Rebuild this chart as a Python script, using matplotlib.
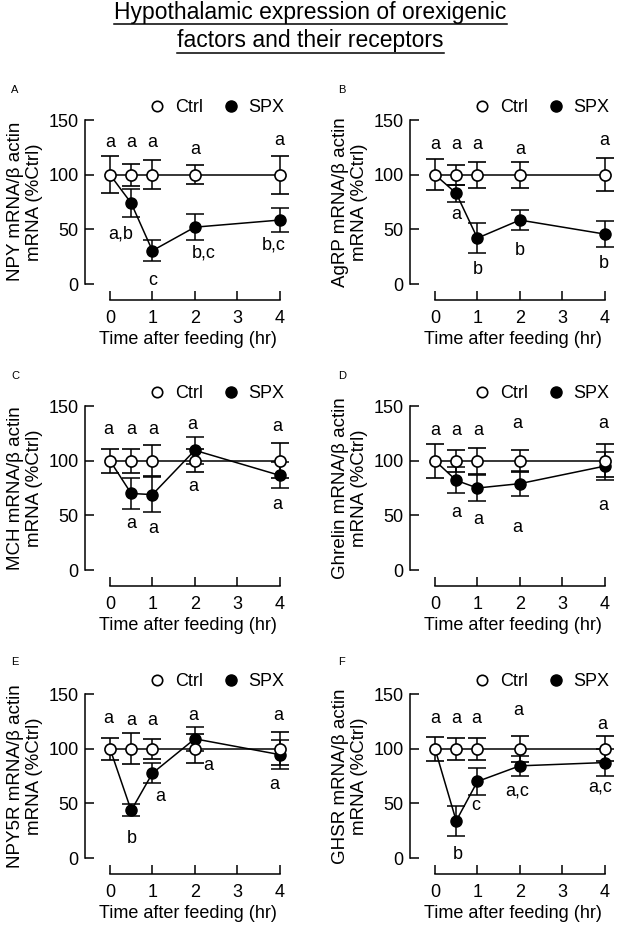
import matplotlib
matplotlib.use("Agg")
import matplotlib.pyplot as plt
from matplotlib.lines import Line2D

plt.rcParams["font.family"] = ["Liberation Sans", "DejaVu Sans"]

TIME = [0, 0.5, 1, 2, 4]
XTICKS = [0, 1, 2, 3, 4]
YTICKS = [0, 50, 100, 150]
PANELS = ["A", "B", "C", "D", "E", "F"]
GENES = ["NPY", "AgRP", "MCH", "Ghrelin", "NPY5R", "GHSR"]

CTRL = [100, 100, 100, 100, 100]
NPY_CTRL_ERR = [17, 10, 13.5, 8.5, 17.5]
NPY_SPX = [100, 74, 30.5, 52, 58.5]
NPY_SPX_ERR = [0, 13, 9.5, 12, 10.7]
AGRP_CTRL_ERR = [14, 9, 12, 12, 15]
AGRP_SPX = [100, 83, 42, 58.5, 45.7]
AGRP_SPX_ERR = [0, 8, 13.5, 9.5, 11.5]
MCH_CTRL_ERR = [11, 11, 14, 10.5, 16]
MCH_SPX = [100, 70, 69, 109.5, 86.6]
MCH_SPX_ERR = [0, 14, 16, 12.5, 12]
GHRELIN_CTRL_ERR = [15.5, 10, 12, 10, 15]
GHRELIN_SPX = [100, 82, 75, 79, 95]
GHRELIN_SPX_ERR = [0, 12, 12, 11.5, 12.5]
NPY5R_CTRL_ERR = [10, 14, 9, 13, 15]
NPY5R_SPX = [100, 43.5, 77.5, 109, 94.6]
NPY5R_SPX_ERR = [0, 5.5, 9, 11, 13]
GHSR_CTRL_ERR = [11, 10, 10, 12, 11.5]
GHSR_SPX = [100, 34, 70, 84.3, 87.3]
GHSR_SPX_ERR = [0, 14, 12, 9, 12]

CTRL_ERRS = [NPY_CTRL_ERR, AGRP_CTRL_ERR, MCH_CTRL_ERR, GHRELIN_CTRL_ERR, NPY5R_CTRL_ERR, GHSR_CTRL_ERR]
SPX_VALS = [NPY_SPX, AGRP_SPX, MCH_SPX, GHRELIN_SPX, NPY5R_SPX, GHSR_SPX]
SPX_ERRS = [NPY_SPX_ERR, AGRP_SPX_ERR, MCH_SPX_ERR, GHRELIN_SPX_ERR, NPY5R_SPX_ERR, GHSR_SPX_ERR]

# significance letters (text) and where they sit (x, y in data units)
LETTERS = [
    ["a", "a", "a", "a", "a", "a,b", "c", "b,c", "b,c"],
    ["a", "a", "a", "a", "a", "a", "b", "b", "b"],
    ["a", "a", "a", "a", "a", "a", "a", "a", "a"],
    ["a", "a", "a", "a", "a", "a", "a", "a", "a"],
    ["a", "a", "a", "a", "a", "b", "a", "a", "a"],
    ["a", "a", "a", "a", "a", "b", "c", "a,c", "a,c"],
]
LETTER_POS = [
    [(0, 129.6), (0.5, 129.6), (1, 129.6), (2, 122.6), (4, 131.7),
     (0.25, 46), (1.01, 3), (2.22, 28), (3.87, 35.7)],
    [(0, 128), (0.5, 128), (1, 128), (2, 122.6), (4, 131),
     (0.49, 63.4), (1.02, 13.7), (1.99, 30.5), (3.98, 18.9)],
    [(-0.05, 128.4), (0.5, 128.4), (1.01, 128.4), (1.93, 132.9), (3.95, 131.4),
     (0.51, 43), (1.01, 38.4), (1.96, 76.5), (3.95, 59.8)],
    [(0, 127.4), (0.49, 127.4), (1.02, 127.4), (1.94, 134.3), (3.96, 133.6),
     (0.49, 52.6), (1.02, 46.4), (1.94, 38.6), (3.96, 58.9)],
    [(-0.05, 127.6), (0.5, 125.5), (1, 125.5), (1.96, 130.6), (3.97, 130.6),
     (0.51, 18.3), (1.18, 56.5), (2.32, 84.4), (3.88, 67)],
    [(0, 128), (0.49, 128), (0.98, 128), (1.96, 135), (3.95, 122),
     (0.54, 3.5), (0.96, 48), (1.93, 61.6), (3.9, 64.7)],
]

FS = 13
W, H = 621, 932
LEFTS = [85.4, 410.4]
BOTTOMS = [300, 586, 874]
AX_W, AX_H = 204.8, 196.4

fig = plt.figure(figsize=(W / 100, H / 100), dpi=100)

for i, gene in enumerate(GENES):
    row, col = divmod(i, 2)
    ax = fig.add_axes([LEFTS[col] / W, 1 - BOTTOMS[row] / H, AX_W / W, AX_H / H])
    ax.set_xlim(-0.58, 4.25)
    ax.set_ylim(-14.6, 165)
    for s in ("top", "right"):
        ax.spines[s].set_visible(False)
    ax.spines["left"].set_bounds(0, 150)
    ax.spines["bottom"].set_bounds(0, 4)
    for s in ("left", "bottom"):
        ax.spines[s].set_linewidth(1.1)
    ax.set_xticks(XTICKS)
    ax.set_yticks(YTICKS)
    ax.tick_params(direction="in", length=6.5, width=1.1, labelsize=FS)
    ax.tick_params(axis="y", pad=5)
    ax.tick_params(axis="x", pad=7)
    ax.set_xlabel("Time after feeding (hr)", fontsize=FS, labelpad=3)
    ax.set_ylabel(f"{gene} mRNA/β actin\nmRNA (%Ctrl)", fontsize=13.5, linespacing=1.2)
    ax.yaxis.set_label_coords(-0.205, 0.5)

    spx, spx_err = SPX_VALS[i], SPX_ERRS[i]
    ax.plot(TIME, spx, color="black", lw=1.1, zorder=2)
    ax.errorbar(TIME[1:], spx[1:], yerr=spx_err[1:], fmt="o", color="black",
                ms=8, mfc="black", mec="black", elinewidth=1.1, capsize=6.5,
                capthick=1.1, zorder=3)
    ax.errorbar(TIME, CTRL, yerr=CTRL_ERRS[i], fmt="-o", color="black",
                ms=8, mfc="white", mec="black", mew=1.2, lw=1.1,
                elinewidth=1.1, capsize=6.5, capthick=1.1, zorder=4)

    for txt, (lx, ly) in zip(LETTERS[i], LETTER_POS[i]):
        ax.text(lx, ly, txt, fontsize=FS, ha="center", va="center", zorder=5)

    handles = [
        Line2D([], [], ls="none", marker="o", ms=7.5, mfc="white", mec="black", mew=1.2),
        Line2D([], [], ls="none", marker="o", ms=8, mfc="black", mec="black"),
    ]
    ax.legend(handles, ["Ctrl", "SPX"], ncol=2, frameon=False, fontsize=FS,
              loc="center right", bbox_to_anchor=(4.12, 161),
              bbox_transform=ax.transData, handlelength=1.0, handletextpad=0.5,
              columnspacing=1.0, borderpad=0, borderaxespad=0)

    lx = [11, 338][col]
    ly = [90, 376, 662][row]
    fig.text(lx / W, 1 - ly / H, PANELS[i], fontsize=8, ha="left", va="center")

titles = ["Hypothalamic expression of orexigenic", "factors and their receptors"]
title_y = [12, 41]
texts = [fig.text(0.5, 1 - y / H, t, fontsize=16.5, ha="center", va="center")
         for t, y in zip(titles, title_y)]
fig.canvas.draw()
for t in texts:
    bb = t.get_window_extent()
    yy = (bb.y0 - 0.5) / H
    fig.add_artist(Line2D([bb.x0 / W, bb.x1 / W], [yy, yy], color="black", lw=1.1))

fig.savefig("out.png", dpi=100)
